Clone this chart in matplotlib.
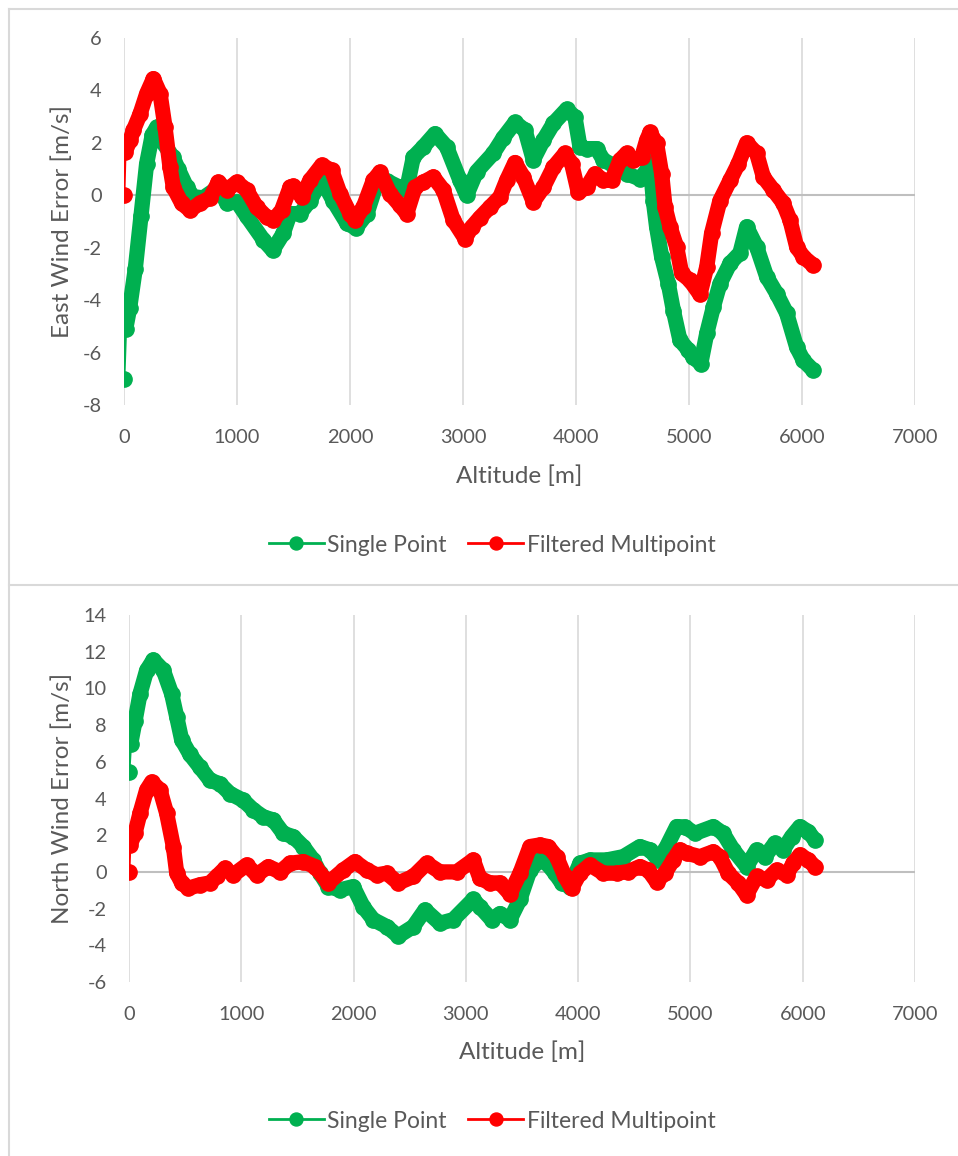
import matplotlib
matplotlib.use('Agg')
import matplotlib.pyplot as plt
from matplotlib.lines import Line2D

W, H = 958, 1156

# ---- East wind error (top chart) ----
east_sp_alt = [0, 15, 50, 100, 150, 200, 250, 290, 330, 434, 480, 556, 611, 700, 835, 910, 1000,
               1086, 1233, 1316, 1410, 1470, 1558, 1646, 1750, 1850, 1973, 2053, 2150, 2236, 2325,
               2442, 2500, 2560, 2650, 2752, 2855, 2973, 3032, 3120, 3268, 3357, 3460, 3549, 3622,
               3711, 3800, 3917, 3991, 4035, 4094, 4183, 4242, 4330, 4448, 4566, 4625, 4655, 4684,
               4713, 4758, 4817, 4862, 4920, 4994, 5038, 5104, 5157, 5215, 5274, 5363, 5451, 5510,
               5599, 5687, 5776, 5864, 5953, 6012, 6100]
east_sp = [-7.0, -5.1, -4.3, -2.8, -0.8, 1.2, 2.3, 2.6, 2.1, 1.45, 1.0, 0.3, -0.05, -0.1, 0.3, -0.3, -0.25,
           -0.8, -1.7, -2.1, -1.45, -0.7, -0.7, -0.2, 0.6, -0.2, -1.07, -1.25, -0.7, 0.45, 0.55,
           0.3, 0.2, 1.45, 1.85, 2.35, 1.85, 0.57, 0.0, 0.9, 1.6, 2.2, 2.78, 2.48, 1.35,
           2.1, 2.74, 3.28, 2.98, 1.85, 1.78, 1.78, 1.34, 1.15, 0.82, 0.63, 0.95, 1.3, -0.2,
           -1.2, -2.35, -3.37, -4.4, -5.53, -5.9, -6.18, -6.42, -5.27, -4.27, -3.37, -2.6, -2.2, -1.2,
           -1.97, -3.1, -3.75, -4.5, -5.8, -6.3, -6.68]

east_fm_alt = [0, 10, 53, 83, 142, 201, 260, 319, 363, 407, 437, 510, 584, 673, 761, 835, 909, 997,
               1086, 1174, 1263, 1321, 1395, 1469, 1500, 1572, 1646, 1750, 1838, 1912, 2000, 2044,
               2118, 2206, 2265, 2354, 2442, 2502, 2575, 2649, 2737, 2826, 2914, 3018, 3080, 3150,
               3239, 3327, 3386, 3460, 3534, 3622, 3711, 3800, 3903, 3962, 4020, 4094, 4168, 4242,
               4316, 4389, 4448, 4507, 4581, 4625, 4655, 4713, 4758, 4788, 4832, 4891, 4935, 5009,
               5097, 5157, 5200, 5274, 5363, 5436, 5510, 5599, 5658, 5746, 5834, 5894, 5953, 6012, 6100]
east_fm = [0.0, 1.65, 2.1, 2.48, 3.1, 3.88, 4.45, 3.88, 2.6, 1.07, 0.3, -0.3, -0.57, -0.3, -0.1, 0.5, 0.2, 0.5,
           0.2, -0.45, -0.83, -0.95, -0.57, 0.3, 0.35, -0.06, 0.57, 1.15, 0.95, 0.06, -0.7, -0.95,
           -0.45, 0.57, 0.88, 0.06, -0.38, -0.7, 0.3, 0.5, 0.7, 0.2, -0.95, -1.65, -1.2, -0.85,
           -0.45, -0.06, 0.57, 1.25, 0.7, -0.25, 0.3, 1.07, 1.6, 1.2, 0.12, 0.3, 0.82, 0.57,
           0.57, 1.34, 1.6, 1.34, 1.45, 2.1, 2.4, 1.98, 0.82, -0.45, -1.2, -1.97, -2.98, -3.25,
           -3.78, -2.73, -1.45, -0.2, 0.57, 1.2, 2.0, 1.6, 0.7, 0.2, -0.3, -0.95, -1.97, -2.35, -2.67]

# ---- North wind error (bottom chart) ----
north_sp_alt = [0, 15, 53, 98, 157, 216, 306, 380, 425, 469, 543, 632, 721, 810, 899, 1018, 1107, 1196,
                1285, 1374, 1463, 1552, 1641, 1701, 1775, 1879, 1997, 2086, 2175, 2295, 2398, 2532,
                2636, 2769, 2888, 3066, 3125, 3229, 3304, 3393, 3482, 3571, 3660, 3720, 3793, 3853,
                3927, 4016, 4105, 4254, 4402, 4550, 4639, 4713, 4788, 4877, 4951, 5040, 5203, 5292,
                5381, 5500, 5589, 5663, 5752, 5826, 5901, 5975, 6049, 6108]
north_sp = [5.45, 6.98, 8.2, 9.7, 10.98, 11.55, 10.98, 9.7, 8.45, 7.2, 6.4, 5.7, 5.0, 4.8, 4.27, 3.9, 3.38, 3.0,
            2.83, 2.1, 1.92, 1.38, 0.65, -0.07, -0.8, -0.98, -0.8, -1.9, -2.6, -2.98, -3.5, -2.98,
            -2.07, -2.8, -2.6, -1.5, -1.9, -2.6, -2.27, -2.6, -1.5, 0.1, 0.65, 0.47, -0.07, -0.6,
            -0.8, 0.47, 0.65, 0.65, 0.83, 1.38, 1.2, 0.65, 1.38, 2.47, 2.45, 2.1, 2.47, 2.1,
            1.2, 0.29, 1.2, 0.83, 1.56, 1.2, 1.92, 2.47, 2.2, 1.74]

north_fm_alt = [0, 9, 53, 98, 157, 202, 276, 335, 395, 425, 469, 528, 632, 721, 781, 855, 929, 1048, 1137,
                1241, 1345, 1434, 1552, 1656, 1775, 1908, 2012, 2117, 2206, 2295, 2398, 2532, 2651,
                2769, 2918, 3066, 3125, 3215, 3304, 3393, 3482, 3571, 3660, 3734, 3808, 3882, 3942,
                4016, 4105, 4224, 4343, 4447, 4550, 4624, 4699, 4773, 4847, 4906, 4966, 5085, 5203,
                5262, 5336, 5425, 5500, 5589, 5678, 5767, 5856, 5916, 5975, 6049, 6108]
north_fm = [0.0, 1.47, 2.1, 3.2, 4.47, 4.9, 4.47, 3.2, 1.38, -0.07, -0.6, -0.89, -0.7, -0.6, -0.25, 0.2, -0.16, 0.38, -0.16,
            0.29, 0.0, 0.47, 0.56, 0.29, -0.6, 0.1, 0.56, 0.1, -0.16, -0.07, -0.6, -0.25, 0.47,
            0.0, 0.0, 0.65, -0.35, -0.6, -0.6, -1.2, -0.07, 1.38, 1.47, 1.38, 0.83, -0.25, -0.89,
            -0.07, 0.38, -0.07, -0.07, 0.02, 0.29, 0.1, -0.54, -0.07, 0.65, 1.2, 1.02, 0.83, 1.1,
            0.83, -0.07, -0.6, -1.25, -0.25, -0.44, 0.1, -0.16, 0.47, 0.93, 0.65, 0.29]

GREEN = '#00B050'
RED = '#FF0000'
TXT = '#595959'
FS = 14.4      # tick labels
FS_LAB = 17.5  # axis titles
FS_LEG = 16.5

plt.rcParams['font.family'] = ['Lato', 'DejaVu Sans']
plt.rcParams['axes.unicode_minus'] = False

fig = plt.figure(figsize=(W / 100, H / 100), dpi=100)


def draw_series(ax, alt, val, color, label):
    # thin line with a marker at every point, then the dense part as a thick band
    ax.plot(alt, val, color=color, lw=2.0, marker='o', ms=11, mec=color, label=label, zorder=3)
    ax.plot(alt[1:], val[1:], color=color, lw=11, solid_capstyle='round',
            solid_joinstyle='round', zorder=3)


def make_chart(box, ylim, yticks, ylabel, sp_alt, sp, fm_alt, fm, xlab_y, leg_y):
    l, t, r, b = box
    ax = fig.add_axes([l / W, 1 - b / H, (r - l) / W, (b - t) / H])
    draw_series(ax, sp_alt, sp, GREEN, 'Single Point')
    draw_series(ax, fm_alt, fm, RED, 'Filtered Multipoint')
    ax.set_xlim(0, 7000)
    ax.set_ylim(*ylim)
    ax.set_xticks(range(0, 8000, 1000))
    ax.set_yticks(yticks)
    ax.grid(axis='x', color='#D9D9D9', lw=1.2)
    ax.axhline(0, color='#BFBFBF', lw=1.5, zorder=2)
    for s in ax.spines.values():
        s.set_visible(False)
    ax.tick_params(length=0, labelcolor=TXT, labelsize=FS)
    ax.tick_params(axis='x', pad=17)
    ax.tick_params(axis='y', pad=16)
    ax.set_ylabel(ylabel, color=TXT, fontsize=FS_LAB)
    ax.yaxis.set_label_coords((73 - l) / (r - l), 0.5)
    fig.text((l + r) / 2 / W, 1 - xlab_y / H, 'Altitude [m]', color=TXT, fontsize=FS_LAB,
             ha='center', va='center')
    fig.legend(*ax.get_legend_handles_labels(), loc='center', ncol=2, frameon=False,
               bbox_to_anchor=(492 / W, 1 - leg_y / H), fontsize=FS_LEG, handlelength=2.4,
               handletextpad=0.15, columnspacing=0.95, labelcolor=TXT, markerscale=0.85)
    return ax


ax1 = make_chart((124, 38, 915, 405), (-8, 6), range(-8, 7, 2), 'East Wind Error [m/s]',
                 east_sp_alt, east_sp, east_fm_alt, east_fm, 476, 545)
ax2 = make_chart((129, 615, 915, 982), (-6, 14), range(-6, 15, 2), 'North Wind Error [m/s]',
                 north_sp_alt, north_sp, north_fm_alt, north_fm, 1052, 1121)

# chart area borders
border = '#D9D9D9'
for (x0, y0, x1, y1) in [(9, 9, W, 9), (9, 9, 9, H), (9, 585, W, 585)]:
    fig.add_artist(Line2D([x0 / W, x1 / W], [1 - y0 / H, 1 - y1 / H], color=border, lw=1.5,
                          transform=fig.transFigure))

fig.savefig('out.png', dpi=100)
